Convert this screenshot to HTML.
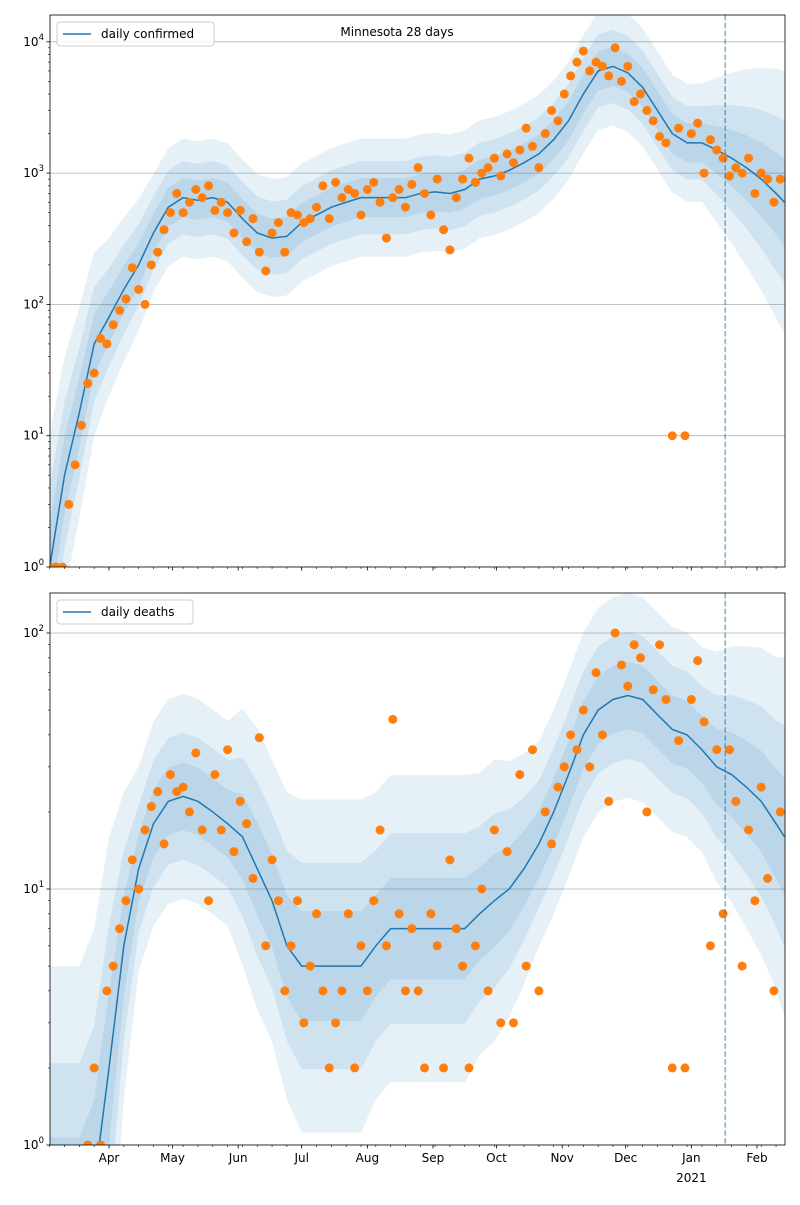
<!DOCTYPE html>
<html><head><meta charset="utf-8">
<style>
body{margin:0;background:#fff;}
svg text{font-family:"DejaVu Sans","Liberation Sans",sans-serif;font-size:12px;fill:#000;}
</style></head>
<body>
<svg id="chart" width="800" height="1200" xmlns="http://www.w3.org/2000/svg"></svg>
<script>
// ---- data (day index 0 = Mar 4, 2020) ----
const monthLabels = ["Apr","May","Jun","Jul","Aug","Sep","Oct","Nov","Dec","Jan","Feb"];
const monthDays = [28,58,89,119,150,181,211,242,272,303,334];
const forecastDay = 319;
const confMedian = [1,5,15,50,80,130,200,350,550,650,620,650,600,450,350,320,330,420,480,550,600,650,650,650,650,700,720,700,750,900,950,1050,1200,1400,1800,2500,4000,6000,6500,5800,4500,3000,2000,1700,1700,1500,1300,1100,900,700,600];
const confBand = [1.0,0.9,0.8,0.7,0.6,0.55,0.5,0.45,0.45,0.45,0.45,0.45,0.45,0.45,0.45,0.45,0.45,0.45,0.45,0.45,0.45,0.45,0.45,0.45,0.45,0.45,0.45,0.45,0.45,0.45,0.45,0.45,0.45,0.45,0.45,0.45,0.45,0.45,0.45,0.45,0.45,0.45,0.45,0.45,0.45,0.55,0.65,0.75,0.85,0.95,1.0];
const deathMedian = [0.5,0.5,0.5,0.7,2,6,12,18,22,23,22,20,18,16,12,9,6,5,5,5,5,5,6,7,7,7,7,7,7,8,9,10,12,15,20,28,40,50,55,57,55,48,42,40,35,30,28,25,22,18,16];
const deathBand = [1.0,1.0,1.0,1.0,0.9,0.6,0.4,0.4,0.4,0.4,0.4,0.4,0.4,0.5,0.55,0.55,0.6,0.65,0.65,0.65,0.65,0.65,0.6,0.6,0.6,0.6,0.6,0.6,0.6,0.55,0.55,0.5,0.45,0.4,0.4,0.4,0.4,0.4,0.4,0.4,0.4,0.4,0.4,0.4,0.4,0.45,0.5,0.55,0.6,0.65,0.7];
const confObs = [1,1,1,3,6,12,25,30,55,50,70,90,110,190,130,100,200,250,370,500,700,500,600,750,650,800,520,600,500,350,520,300,450,250,180,350,420,250,500,480,420,450,550,800,450,850,650,750,700,480,750,850,600,320,650,750,550,820,1100,700,480,900,370,260,650,900,1300,850,1000,1100,1300,950,1400,1200,1500,2200,1600,1100,2000,3000,2500,4000,5500,7000,8500,6000,7000,6500,5500,9000,5000,6500,3500,4000,3000,2500,1900,1700,10,2200,10,2000,2400,1000,1800,1500,1300,950,1100,1000,1300,700,1000,900,600,900];
const deathObs = [null,null,null,null,null,null,1,2,1,4,5,7,9,13,10,17,21,24,15,28,24,25,20,34,17,9,28,17,35,14,22,18,11,39,6,13,9,4,6,9,3,5,8,4,2,3,4,8,2,6,4,9,17,6,46,8,4,7,4,2,8,6,2,13,7,5,2,6,10,4,17,3,14,3,28,5,35,4,20,15,25,30,40,35,50,30,70,40,22,100,75,62,90,80,20,60,90,55,2,38,2,55,78,45,6,35,8,35,22,5,17,9,25,11,4,20];

const NS="http://www.w3.org/2000/svg";
const svg=document.getElementById('chart');
const X0=50,X1=785;
function xs(d){return 109+(d-28)*2.1176;}
function mk(tag,attrs,parent){const e=document.createElementNS(NS,tag);for(const k in attrs)e.setAttribute(k,attrs[k]);(parent||svg).appendChild(e);return e;}

function panel(id,top,bottom,perDecade,maxExp,median,band,obs,legendLabel,showXLabels,title){
  const ys=v=>bottom-Math.log10(v)*perDecade;
  const g=mk('g',{});
  
  
  const cp=mk('clipPath',{id:id+'clip'},g);
  mk('rect',{x:X0,y:top,width:X1-X0,height:bottom-top},cp);
  const plot=mk('g',{'clip-path':'url(#'+id+'clip)'},g);
  for(let e=0;e<=maxExp;e++){
    const y=ys(Math.pow(10,e));
    const gl=mk('line',{x1:X0,x2:X1,y1:y,y2:y,stroke:'#b0b0b0','stroke-width':0.8},plot);
    
    
  }
  const days=median.map((_,i)=>Math.min(i*7,347));
  [1,0.62,0.33].forEach((f,bi)=>{
    let up=[],dn=[];
    median.forEach((m,i)=>{const w=band[i]*f;up.push(xs(days[i])+','+ys(m*Math.pow(10,w)));dn.unshift(xs(days[i])+','+ys(m/Math.pow(10,w)));});
    const p=mk('polygon',{points:up.concat(dn).join(' '),fill:'rgba(31,119,180,0.11)'},plot);
    
    
  });
  const pts=median.map((m,i)=>xs(days[i])+','+ys(m)).join(' ');
  const ln=mk('polyline',{points:pts,fill:'none',stroke:'#1f77b4','stroke-width':1.5},plot);
  
  
  obs.forEach((v,i)=>{ if(v==null) return;
    const c=mk('circle',{cx:xs(i*3),cy:ys(v),r:4.5,fill:'#ff7f0e'},plot);
    
    
  });
  const fl=mk('line',{x1:xs(forecastDay),x2:xs(forecastDay),y1:top,y2:bottom,stroke:'#1f77b4','stroke-opacity':0.6,'stroke-width':1.5,'stroke-dasharray':'5.5,2.4'},plot);
  
  
  const fr=mk('rect',{x:X0,y:top,width:X1-X0,height:bottom-top,fill:'none',stroke:'#000','stroke-width':0.8},g);
  
  
  for(let e=0;e<=maxExp;e++){
    for(let k=1;k<10;k++){
      const y=ys(k*Math.pow(10,e));
      if(y<top||y>bottom+0.5) continue;
      mk('line',{x1:X0,x2:X0-(k==1?3.5:2),y1:y,y2:y,stroke:'#000','stroke-width':k==1?0.8:0.6},g);
      if(k==1){
        const t=mk('text',{x:X0-6,y:y+4,'text-anchor':'end'},g);
        
        
        t.textContent='10';
        const s=mk('tspan',{dy:-6,'font-size':'8.5px'},t);s.textContent=String(e);
      }
    }
  }
  monthDays.forEach((d,i)=>{
    const x=xs(d);
    mk('line',{x1:x,x2:x,y1:bottom,y2:bottom+3.5,stroke:'#000','stroke-width':0.8},g);
    if(showXLabels){
      const t=mk('text',{x:x,y:bottom+17,'text-anchor':'middle'},g);
      
      
      t.textContent=monthLabels[i];
    }
  });
  for(let d=0;d<=347;d+=7){const x=xs(d);mk('line',{x1:x,x2:x,y1:bottom,y2:bottom+2,stroke:'#000','stroke-width':0.6},g);}
  if(showXLabels){
    const t=mk('text',{x:xs(303),y:bottom+37,'text-anchor':'middle'},g);
    
    
    t.textContent='2021';
  }
  const lg=mk('g',{},g);
  
  
  const w=legendLabel.length*7+52;
  mk('rect',{x:57,y:top+7,width:w,height:24,rx:3,fill:'#fff','fill-opacity':0.8,stroke:'#ccc'},lg);
  mk('line',{x1:63,x2:91,y1:top+19,y2:top+19,stroke:'#1f77b4','stroke-width':1.5},lg);
  const lt=mk('text',{x:101,y:top+23},lg);lt.textContent=legendLabel;
  if(title){const tt=mk('text',{x:397,y:top+21,'text-anchor':'middle','font-size':'14.5px'},g);
    
    
    tt.textContent=title;}
}
panel('confirmed',15,567,131.3,4,confMedian,confBand,confObs,'daily confirmed',false,'Minnesota 28 days');
panel('deaths',593,1145,256,2,deathMedian,deathBand,deathObs,'daily deaths',true,null);
</script>
</body></html>
